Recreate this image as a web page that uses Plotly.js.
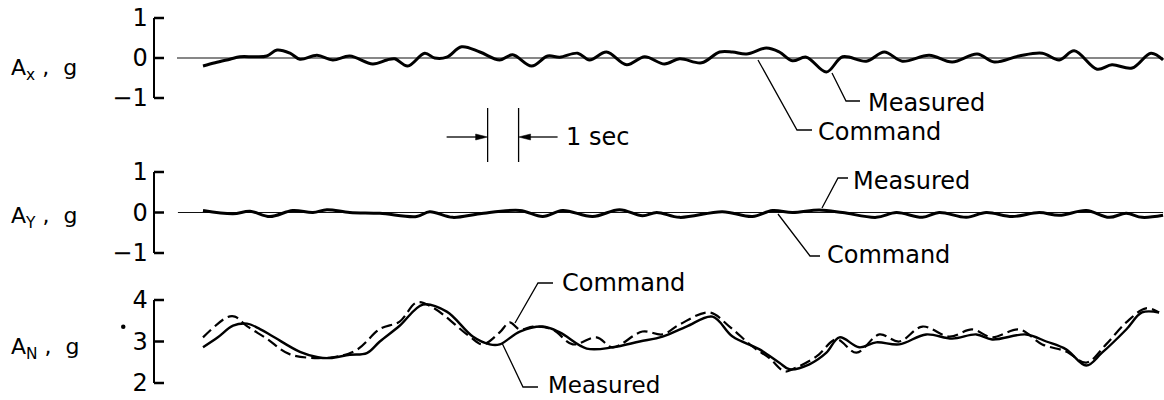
<!DOCTYPE html>
<html>
<head>
<meta charset="utf-8">
<script src="https://cdn.plot.ly/plotly-3.0.1.min.js"></script>
<style>
  html, body { margin: 0; padding: 0; background: #fff; }
  #chart { width: 1164px; height: 400px; }
</style>
</head>
<body>
<div id="chart"></div>
<script>
// Time in seconds from the start of the measured records.

// A_x panel (g)
const axTime = [0.00, 0.39, 0.87, 1.19, 1.68, 2.06, 2.39, 2.81, 3.13, 3.68,
                4.19, 4.74, 5.48, 5.94, 6.19, 6.61, 7.16, 7.48, 7.87, 8.35,
                8.94, 9.58, 10.00, 10.61, 11.13, 11.52, 12.10, 12.48, 13.03, 13.68,
                14.26, 14.90, 15.39, 16.10, 16.68, 17.10, 17.55, 18.19, 18.61, 19.03,
                19.48, 20.13, 20.65, 21.42, 22.00, 22.58, 23.45, 24.19, 25.00, 25.55,
                26.35, 27.10, 27.65, 28.13, 28.87, 29.35, 30.00, 30.61, 31.00];
const axMeasured = [-0.20, -0.12, -0.03, 0.03, 0.03, 0.05, 0.20, 0.12, -0.03, 0.07,
                    -0.05, 0.05, -0.15, -0.05, -0.02, -0.20, 0.12, 0.00, 0.02, 0.28,
                    0.15, -0.05, 0.08, -0.20, 0.05, 0.02, 0.12, -0.05, 0.15, -0.17,
                    0.03, -0.15, -0.02, -0.12, 0.15, 0.15, 0.10, 0.25, 0.15, -0.07,
                    0.02, -0.35, 0.03, -0.08, 0.15, -0.08, 0.07, -0.10, 0.10, -0.10,
                    0.05, 0.12, -0.05, 0.18, -0.28, -0.17, -0.25, 0.12, -0.05];
const axCmdTime = [-0.84, 31.0];
const axCommand = [0, 0];

// A_Y panel (g)
const ayTime = [0.00, 0.97, 1.52, 2.16, 2.90, 3.55, 4.00, 4.74, 5.71, 6.90,
                7.32, 8.06, 8.94, 10.23, 10.97, 11.61, 12.58, 13.45, 14.19, 14.65,
                15.39, 16.77, 17.74, 18.39, 19.03, 19.90, 20.65, 21.74, 22.39, 23.23,
                23.77, 24.65, 25.29, 26.13, 27.00, 27.65, 28.52, 29.26, 29.81, 30.32,
                31.00];
const ayMeasured = [0.05, -0.03, 0.03, -0.10, 0.05, 0.00, 0.07, 0.00, -0.02, -0.10,
                    0.02, -0.12, -0.03, 0.05, -0.10, 0.05, -0.10, 0.07, -0.08, 0.00,
                    -0.12, 0.02, -0.10, 0.05, 0.00, 0.06, 0.00, -0.12, 0.00, -0.12,
                    0.00, -0.12, 0.00, -0.10, 0.00, -0.07, 0.05, -0.12, -0.02, -0.12,
                    -0.07];
const ayCmdTime = [-0.81, 31.0];
const ayCommand = [0, 0];

// A_N panel (g)
const anTime = [0.00, 0.48, 0.97, 1.42, 1.84, 2.26, 3.13, 3.71, 4.10, 4.74,
                5.29, 5.71, 6.35, 7.10, 7.87, 8.71, 9.26, 9.58, 10.23, 10.97,
                11.52, 12.39, 13.23, 14.10, 14.84, 15.61, 16.45, 17.10, 17.97, 18.61,
                18.94, 19.58, 20.13, 20.55, 21.19, 21.74, 22.48, 23.35, 24.19, 24.97,
                25.48, 26.58, 27.23, 27.87, 28.52, 29.03, 29.81, 30.32, 30.87];
const anMeasured = [2.86, 3.10, 3.38, 3.43, 3.30, 3.12, 2.75, 2.62, 2.60, 2.68,
                    2.72, 3.00, 3.38, 3.89, 3.72, 3.12, 2.93, 2.93, 3.24, 3.36,
                    3.22, 2.83, 2.86, 3.00, 3.12, 3.36, 3.60, 3.12, 2.81, 2.49,
                    2.33, 2.45, 2.73, 3.10, 2.86, 2.98, 2.93, 3.17, 3.07, 3.17,
                    3.05, 3.17, 3.00, 2.81, 2.42, 2.73, 3.29, 3.70, 3.70];
const anCmdTime = [0.00, 0.77, 1.03, 1.42, 2.06, 2.81, 4.19, 4.97, 5.71, 6.35,
                   6.90, 7.42, 8.61, 9.03, 9.58, 9.90, 10.23, 10.65, 11.29, 11.94,
                   12.71, 13.23, 14.19, 14.84, 15.39, 16.35, 17.00, 17.74, 18.29, 18.77,
                   19.03, 19.81, 20.45, 21.10, 21.84, 22.48, 23.23, 24.10, 24.84, 25.48,
                   26.35, 27.10, 27.87, 28.52, 29.16, 29.81, 30.45, 30.87];
const anCommand = [3.10, 3.58, 3.60, 3.37, 3.07, 2.69, 2.62, 2.80, 3.30, 3.48,
                   3.94, 3.82, 3.12, 2.93, 3.22, 3.46, 3.29, 3.36, 3.29, 2.93,
                   3.10, 2.86, 3.24, 3.17, 3.41, 3.70, 3.36, 2.88, 2.60, 2.28,
                   2.33, 2.64, 3.05, 2.73, 3.17, 3.00, 3.36, 3.12, 3.29, 3.10,
                   3.29, 2.93, 2.76, 2.49, 2.93, 3.46, 3.80, 3.70];

// Axis tick labels
const axTicks = [-1, 0, 1];
const axTickText = ['\u22121', '0', '1'];
const anTicks = [2, 3, 4];
const anTickText = ['2', '3', '4'];

// Time scale marker (s)
const scaleStart = 9.19;
const scaleLength = 1;

const FONT = 'DejaVu Sans, sans-serif';
const W = 1164, H = 400, LEFT = 155;
const X_RANGE = [-1.55, 31.03];
const PX = p => (p - LEFT) / (W - LEFT);
const PY = p => 1 - p / H;
const TX = t => (t - X_RANGE[0]) / (X_RANGE[1] - X_RANGE[0]);   // time -> paper x
const TPX = t => LEFT + TX(t) * (W - LEFT);                      // time -> pixel x

// Panel placement: [bottom, top] in paper units, and value range
const panels = {
  y:  { domain: [PY(98),  PY(18)],  range: [-1, 1] },
  y2: { domain: [PY(253), PY(172)], range: [-1, 1] },
  y3: { domain: [PY(383), PY(300)], range: [2, 4] }
};
const valueToPaper = (ax, v) => {
  const p = panels[ax];
  return p.domain[0] + (v - p.range[0]) / (p.range[1] - p.range[0]) * (p.domain[1] - p.domain[0]);
};

const traces = [
  { x: axCmdTime, y: axCommand, yaxis: 'y', mode: 'lines',
    line: { color: '#111', width: 1.1 } },
  { x: axTime, y: axMeasured, yaxis: 'y', mode: 'lines',
    line: { color: '#000', width: 3, shape: 'spline', smoothing: 1 } },
  { x: ayCmdTime, y: ayCommand, yaxis: 'y2', mode: 'lines',
    line: { color: '#111', width: 1.1 } },
  { x: ayTime, y: ayMeasured, yaxis: 'y2', mode: 'lines',
    line: { color: '#000', width: 3, shape: 'spline', smoothing: 1 } },
  { x: anCmdTime, y: anCommand, yaxis: 'y3', mode: 'lines',
    line: { color: '#000', width: 2.2, dash: '11px,5px', shape: 'spline', smoothing: 1 } },
  { x: anTime, y: anMeasured, yaxis: 'y3', mode: 'lines',
    line: { color: '#000', width: 2.4, shape: 'spline', smoothing: 1 } }
];

function bracketAxis(ax, vals, text) {
  return {
    domain: panels[ax].domain, range: panels[ax].range, anchor: 'x',
    showline: true, linecolor: '#000', linewidth: 2.5, mirror: false,
    ticks: '', tickvals: vals, ticktext: text, ticklabelstandoff: 0,
    tickfont: { family: FONT, size: 24, color: '#000' },
    showgrid: false, zeroline: false, fixedrange: true
  };
}

const textFont = { family: FONT, size: 24, color: '#000' };
function label(text, left, cy, size) {
  return { text: text, xref: 'paper', yref: 'paper', x: PX(left), y: PY(cy),
           xanchor: 'left', yanchor: 'middle', showarrow: false,
           font: Object.assign({}, textFont, size ? { size: size } : {}) };
}
function sideLabel(sub, cy) {
  return { text: 'A<sub>' + sub + '</sub>\u00a0,\u00a0\u00a0g', xref: 'paper', yref: 'paper',
           x: PX(9), y: PY(cy), xanchor: 'left', yanchor: 'middle', showarrow: false,
           font: { family: FONT, size: 22, color: '#000' } };
}
function pathShape(pts, fill) {
  const d = pts.map((p, i) => (i ? 'L' : 'M') + PX(p[0]).toFixed(5) + ',' + PY(p[1]).toFixed(5)).join(' ')
            + (fill ? ' Z' : '');
  return { type: 'path', xref: 'paper', yref: 'paper', path: d,
           fillcolor: fill ? '#000' : undefined,
           line: { color: '#000', width: fill ? 0.5 : 1.3 } };
}
// Short tick marks pointing right from each axis line
function bracketTicks(ax, vals) {
  return vals.map(v => {
    const yp = valueToPaper(ax, v);
    return { type: 'line', xref: 'paper', yref: 'paper', x0: PX(154), x1: PX(164),
             y0: yp, y1: yp, line: { color: '#000', width: 2.5 } };
  });
}

const tA = TPX(scaleStart), tB = TPX(scaleStart + scaleLength), yArrow = 137;
const shapes = [
  ...bracketTicks('y', axTicks),
  ...bracketTicks('y2', axTicks),
  ...bracketTicks('y3', anTicks),
  pathShape([[832, 73], [846, 101], [860, 101]]),
  pathShape([[758, 60], [797, 130], [812, 130]]),
  pathShape([[822, 208], [838, 178], [848, 178]]),
  pathShape([[778, 214], [810, 256], [820, 256]]),
  pathShape([[515, 323], [538, 283], [553, 283]]),
  pathShape([[502, 343], [523, 387], [538, 387]]),
  // 1 s interval marker
  { type: 'line', xref: 'x', yref: 'paper', x0: scaleStart, x1: scaleStart,
    y0: PY(108), y1: PY(162), line: { color: '#000', width: 1.3 } },
  { type: 'line', xref: 'x', yref: 'paper', x0: scaleStart + scaleLength, x1: scaleStart + scaleLength,
    y0: PY(108), y1: PY(162), line: { color: '#000', width: 1.3 } },
  pathShape([[tA - 41, yArrow], [tA - 10, yArrow]]),
  pathShape([[tA - 12, yArrow - 3], [tA, yArrow], [tA - 12, yArrow + 3]], true),
  pathShape([[tB + 39, yArrow], [tB + 10, yArrow]]),
  pathShape([[tB + 12, yArrow - 3], [tB, yArrow], [tB + 12, yArrow + 3]], true),
  // stray dot beside the A_N scale
  { type: 'circle', xref: 'paper', yref: 'paper', x0: PX(121), x1: PX(125.5),
    y0: PY(329), y1: PY(324.5), fillcolor: '#000', line: { width: 0 } }
];

const annotations = [
  sideLabel('x', 69),
  sideLabel('Y', 217),
  sideLabel('N', 348),
  label('Measured', 866, 103),
  label('Command', 816, 132),
  label('Measured', 851, 181),
  label('Command', 825, 255),
  label('Command', 560, 283),
  label('Measured', 546, 385, 23),
  label('1 sec', 564, 137)
];

const layout = {
  width: W, height: H,
  margin: { l: LEFT, r: 0, t: 0, b: 0, pad: 0 },
  paper_bgcolor: '#fff', plot_bgcolor: 'rgba(0,0,0,0)',
  showlegend: false,
  xaxis: { domain: [0, 1], range: X_RANGE, visible: false, fixedrange: true, anchor: 'y3' },
  yaxis: bracketAxis('y', axTicks, axTickText),
  yaxis2: bracketAxis('y2', axTicks, axTickText),
  yaxis3: bracketAxis('y3', anTicks, anTickText),
  shapes: shapes,
  annotations: annotations
};

Plotly.newPlot('chart', traces, layout, { staticPlot: true, displayModeBar: false });
</script>
</body>
</html>
